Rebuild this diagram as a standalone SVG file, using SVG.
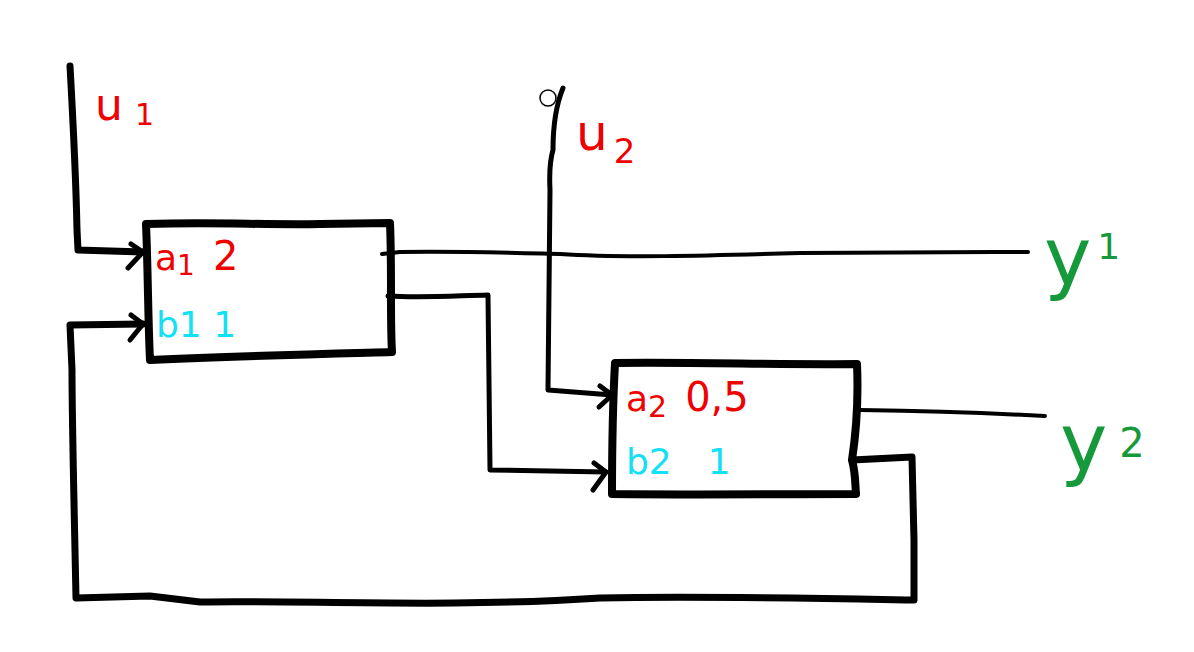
<svg xmlns="http://www.w3.org/2000/svg" width="1194" height="652" viewBox="0 0 1194 652">
<style>
.ln{fill:none;stroke:#000;stroke-linecap:round;stroke-linejoin:round}
.thick{stroke-width:7}
.mid{stroke-width:5}
.thin{stroke-width:4}
.box{fill:none;stroke:#000;stroke-width:8;stroke-linejoin:round;stroke-linecap:round}
.t{font-family:"DejaVu Sans","Liberation Sans",sans-serif}
.red{fill:#f00000}
.cyan{fill:#12e0f5}
.green{fill:#16993a}
</style>
<rect width="1194" height="652" fill="#fff"/>
<g id="connectors">
  <!-- u1 input -->
  <path class="ln thick" d="M70,66 C73,120 76,180 77,230 L78,250 L143,252"/>
  <path class="ln mid" d="M131,244 L143,252 L128,268"/>
  <!-- u2 input -->
  <path class="ln mid" d="M563,88 C556,105 553,125 553,150 C550,160 549,170 550,190 C549,260 548,330 548,390 L612,395"/>
  <path class="ln mid" d="M600,386 L612,395 L599,407"/>
  <!-- y1 output -->
  <path class="ln thin" d="M382,254 L400,252 C460,251 520,253 560,254 C620,258 700,256 800,253 C900,252 960,252 1028,252"/>
  <!-- box1 -> box2 b2 -->
  <path class="ln mid" d="M388,296 C420,298 450,296 488,295 L490,470 L606,472"/>
  <path class="ln mid" d="M594,463 L606,472 L593,490"/>
  <!-- y2 output -->
  <path class="ln thin" d="M860,410 C930,411 990,413 1045,416"/>
  <!-- feedback loop -->
  <path class="ln thick" d="M852,460 L912,457 L914,540 L914,600 C800,598 700,596 600,598 C450,608 300,600 200,602 L150,596 L76,598 C74,500 72,420 72,370 L70,325 L143,324"/>
  <path class="ln mid" d="M131,315 L143,324 L130,340"/>
  <circle cx="548" cy="98" r="8" fill="none" stroke="#000" stroke-width="1.5"/>
</g>
<g id="block1">
  <path class="box" d="M146,224 C220,222 260,225 320,224 L390,223 C392,270 390,320 392,352 C320,354 240,356 150,360 C148,320 148,270 146,224 Z"/>
  <text class="t red" x="155" y="270" font-size="36">a<tspan font-size="28" dy="5">1</tspan><tspan dx="18" dy="-5" font-size="40">2</tspan></text>
  <text class="t cyan" x="156" y="337" font-size="36">b1 1</text>
</g>
<g id="block2">
  <path class="box" d="M615,363 C700,362 780,365 857,364 C859,410 855,440 852,460 C856,475 855,485 856,494 C780,494 700,495 612,494 C612,450 613,400 615,363 Z"/>
  <text class="t red" x="626" y="411" font-size="36">a<tspan dy="6" font-size="30">2</tspan><tspan dx="18" dy="-6" font-size="40">0,5</tspan></text>
  <text class="t cyan" x="626" y="474" font-size="36">b2<tspan dx="36">1</tspan></text>
</g>
<g id="labels">
  <text class="t red" x="95" y="120" font-size="44">u<tspan font-size="30" dx="12" dy="5">1</tspan></text>
  <text class="t red" x="576" y="150" font-size="50">u<tspan font-size="34" dx="6" dy="13">2</tspan></text>
  <text class="t green" x="1044" y="284" font-size="80">y<tspan font-size="36" dx="6" dy="-25">1</tspan></text>
  <text class="t green" x="1060" y="470" font-size="80">y<tspan font-size="40" dx="12" dy="-13">2</tspan></text>
</g>
</svg>
